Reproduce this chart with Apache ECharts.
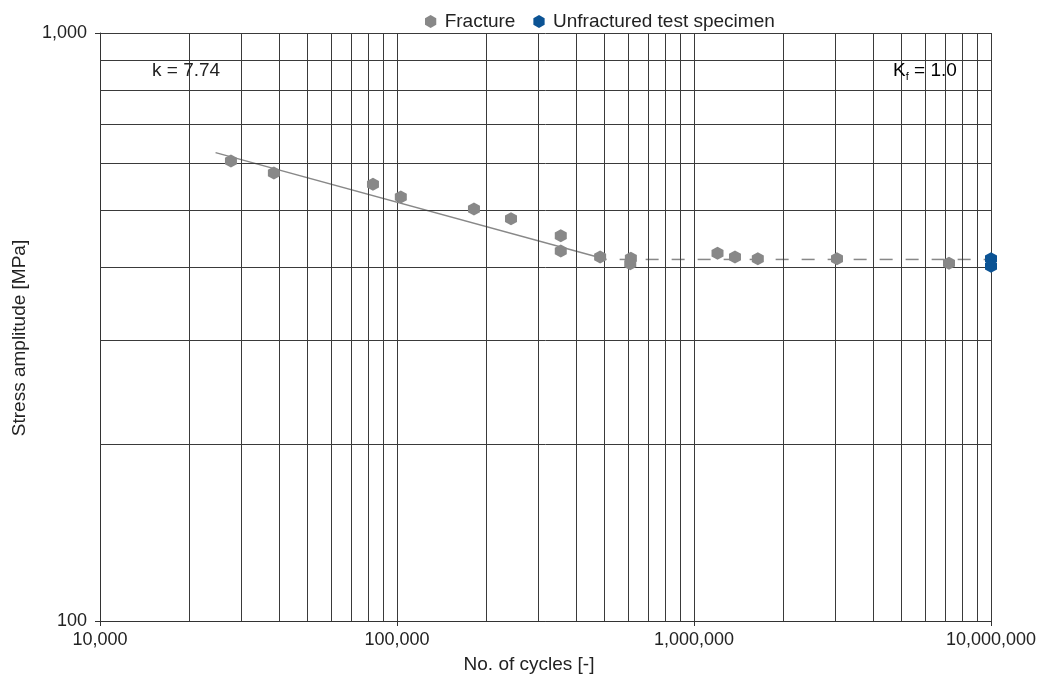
<!DOCTYPE html>
<html>
<head>
<meta charset="utf-8">
<script src="https://cdn.jsdelivr.net/npm/echarts@6/dist/echarts.min.js"></script>
<style>html,body{margin:0;padding:0;background:#fff}#c{width:1048px;height:682px}</style>
</head>
<body>
<div id="c"></div>
<script>
// Data
const fractureCycles = [27600, 38500, 83000, 103000, 181600, 242000, 356000, 356000, 483000, 613000, 610000, 1200000, 1374000, 1640000, 3030000, 7220000];
const fractureStress = [606, 578, 553, 526, 502, 483, 452, 426, 416, 414, 405, 422, 416, 413, 413, 406];
const runoutCycles = [10000000, 10000000];
const runoutStress = [413, 401];
const trendCycles = [24500, 508000];
const trendStress = [626, 412];
const fatigueLimitCycles = [508000, 10000000];
const fatigueLimitStress = [412, 412];
const xMinorGrid = [20000,30000,40000,50000,60000,70000,80000,90000,200000,300000,400000,500000,600000,700000,800000,900000,2000000,3000000,4000000,5000000,6000000,7000000,8000000,9000000];
const yMinorGrid = [200,300,400,500,600,700,800,900];

const FONT = 'Liberation Sans';
const HEX = 'path://M0,-1 L0.866,-0.5 L0.866,0.5 L0,1 L-0.866,0.5 L-0.866,-0.5 Z';
const GRID_COLOR = '#3a3a3a';
const TXT = '#222';
const zip = (a, b) => a.map((v, i) => [v, b[i]]);
const fmt = v => Number(v).toLocaleString('en-US');

const chart = echarts.init(document.getElementById('c'));
chart.setOption({
  animation: false,
  textStyle: { fontFamily: FONT },
  grid: { left: 100, right: 57, top: 33, bottom: 61, containLabel: false },
  legend: {
    left: 420, top: 7,
    itemWidth: 12, itemHeight: 13, itemGap: 18,
    textStyle: { fontFamily: FONT, fontSize: 19, color: TXT, padding: [0, 0, 0, 3] },
    data: [
      { name: 'Fracture', icon: HEX },
      { name: 'Unfractured test specimen', icon: HEX }
    ]
  },
  xAxis: {
    type: 'log', logBase: 10, min: 10000, max: 10000000,
    axisLine: { show: true, lineStyle: { color: '#333', width: 1 } },
    axisTick: { show: true, length: 5, lineStyle: { color: '#333' } },
    axisLabel: { formatter: fmt, fontFamily: FONT, fontSize: 18, color: TXT, margin: 10 },
    splitLine: { show: true, lineStyle: { color: GRID_COLOR, width: 1 } },
    minorTick: { show: false }, minorSplitLine: { show: false }
  },
  yAxis: {
    type: 'log', logBase: 10, min: 100, max: 1000,
    axisLine: { show: true, lineStyle: { color: '#333', width: 1 } },
    axisTick: { show: true, length: 5, lineStyle: { color: '#333' } },
    axisLabel: { formatter: fmt, fontFamily: FONT, fontSize: 18, color: TXT, margin: 13 },
    splitLine: { show: true, lineStyle: { color: GRID_COLOR, width: 1 } },
    minorTick: { show: false }, minorSplitLine: { show: false }
  },
  graphic: [
    { type: 'text', x: 152, y: 71, style: { text: 'k = 7.74', font: '19px "Liberation Sans"', fill: TXT, verticalAlign: 'middle' }, z: 10 },
    { type: 'text', x: 893, y: 71, style: {
        text: '{a|K}{s|f}{a| = 1.0}', verticalAlign: 'middle',
        rich: { a: { fontFamily: FONT, fontSize: 19, color: TXT },
                s: { fontFamily: FONT, fontSize: 11, color: TXT, padding: [11, 0, 0, 0] } }
      }, z: 10 },
    { type: 'text', x: 529, y: 665, style: { text: 'No. of cycles [-]', font: '19px "Liberation Sans"', fill: TXT, align: 'center', verticalAlign: 'middle' } },
    { type: 'text', x: 20, y: 338, rotation: Math.PI / 2, style: { text: 'Stress amplitude [MPa]', font: '19px "Liberation Sans"', fill: TXT, align: 'center', verticalAlign: 'middle' } }
  ],
  series: [
    {
      name: 'minorGrid', type: 'line', data: [], silent: true, z: 1,
      markLine: {
        silent: true, symbol: ['none', 'none'], animation: false,
        label: { show: false },
        lineStyle: { color: GRID_COLOR, width: 1, type: 'solid' },
        emphasis: { disabled: true },
        data: xMinorGrid.map(v => ({ xAxis: v })).concat(yMinorGrid.map(v => ({ yAxis: v })))
      }
    },
    {
      name: 'trend', type: 'line', data: zip(trendCycles, trendStress), symbol: 'none', z: 3,
      lineStyle: { color: '#888', width: 1.5 }, silent: true
    },
    {
      name: 'limit', type: 'line', data: zip(fatigueLimitCycles, fatigueLimitStress), symbol: 'none', z: 3,
      lineStyle: { color: '#888', width: 1.5, type: [13, 13], dashOffset: 13 }, silent: true
    },
    {
      name: 'Fracture', type: 'scatter', data: zip(fractureCycles, fractureStress), z: 5,
      symbol: HEX, symbolSize: [12, 13], itemStyle: { color: '#888', opacity: 1 }
    },
    {
      name: 'Unfractured test specimen', type: 'scatter', data: zip(runoutCycles, runoutStress), z: 6,
      symbol: HEX, symbolSize: [12, 13], itemStyle: { color: '#0b5394', opacity: 1 }
    }
  ]
});
</script>
</body>
</html>
